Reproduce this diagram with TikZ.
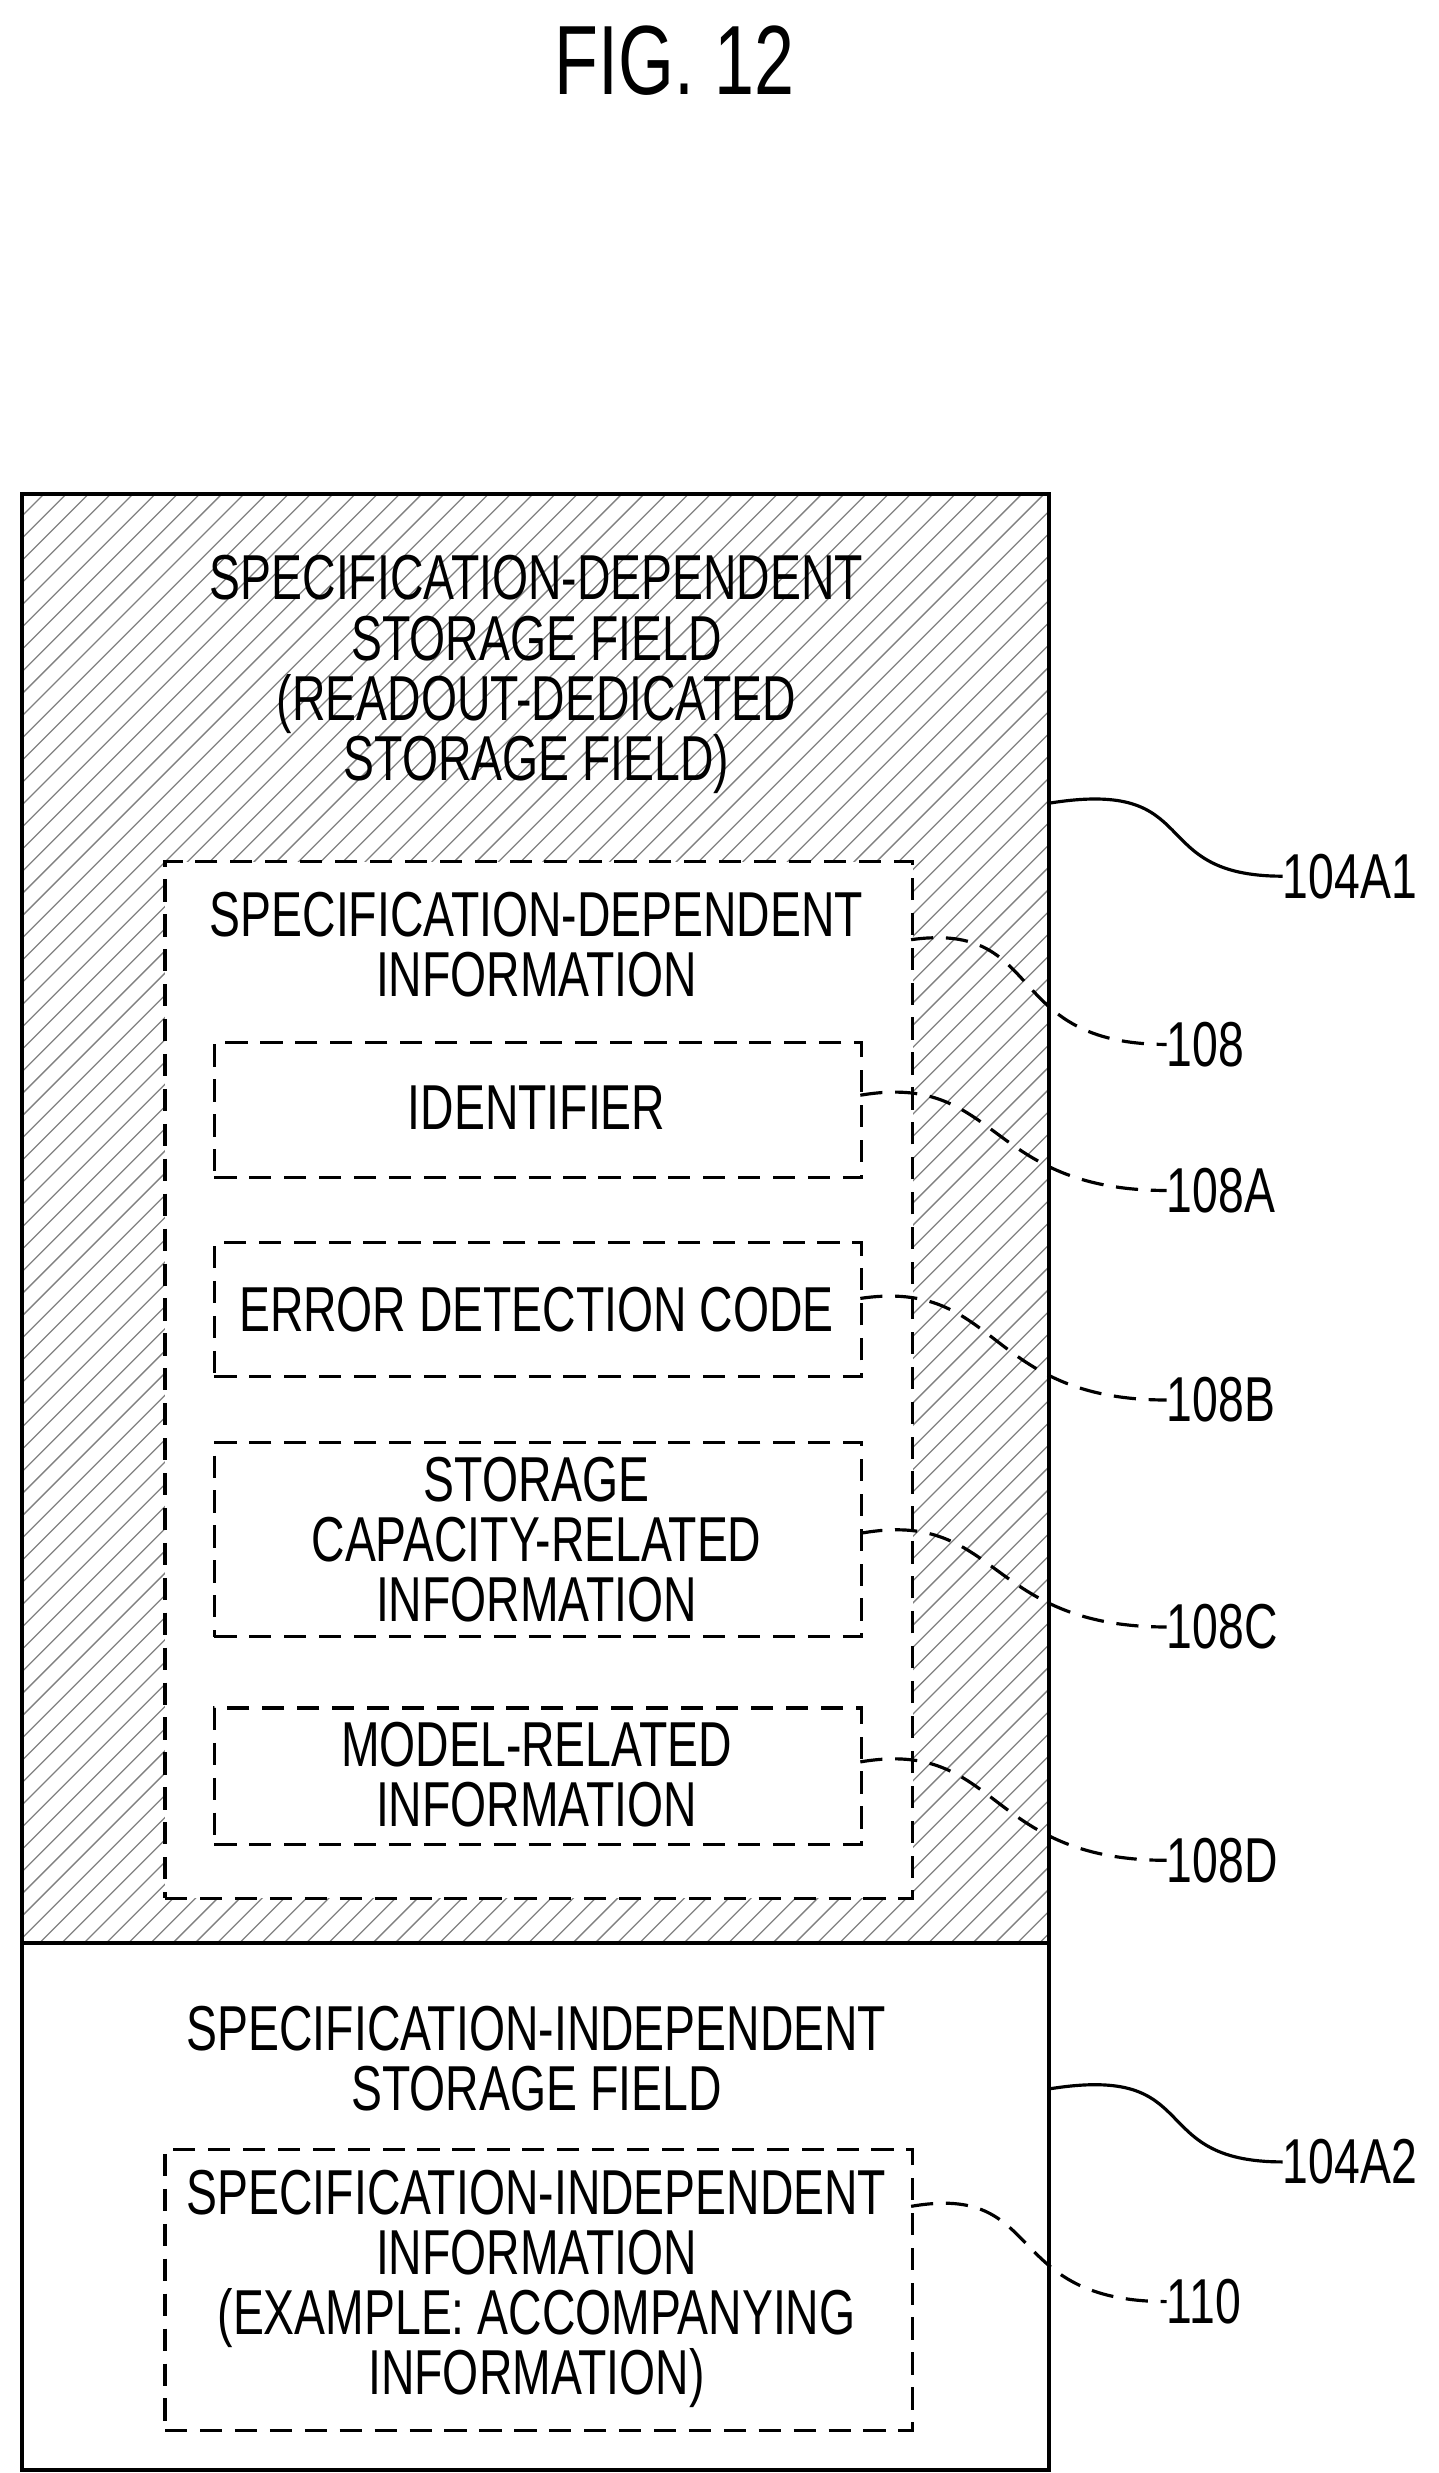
\documentclass[tikz,border=0pt]{standalone}
\usepackage{fontspec}
\setmainfont[FakeStretch=0.73]{Liberation Sans}
\begin{document}
\begin{tikzpicture}[x=1pt,y=-1pt,
 txt/.style={font=\fontsize{40}{38}\selectfont,align=center,inner sep=0},
 lab/.style={font=\fontsize{40}{38}\selectfont,anchor=west,inner sep=0},
 dbox/.style={draw,line width=2pt,dash pattern=on 14pt off 8pt,fill=white},
 lead/.style={line width=2pt},
 dlead/.style={line width=2pt,dash pattern=on 14pt off 8pt}]
\useasboundingbox (0,0) rectangle (906,1558);
\node[txt,font=\fontsize{62}{60}\selectfont] (title) at (425,38) {FIG. 12};
\begin{scope}
\clip (14,311) rectangle (661,1224);
\foreach \i in {0,14,...,1600} \draw[gray,line width=0.8pt] (14+\i-913,1224) -- (14+\i,311);
\end{scope}
\draw[line width=2.4pt] (14,311) rectangle (661,1556);
\draw[line width=2.4pt] (14,1224) -- (661,1224);
\node[txt] (t1) at (338,425) {SPECIFICATION-DEPENDENT\\STORAGE FIELD\\(READOUT-DEDICATED\\STORAGE FIELD)};
\node[dbox,minimum width=471,minimum height=653,anchor=north west] (b108) at (103,542) {};
\node[txt] at (338,595) {SPECIFICATION-DEPENDENT\\INFORMATION};
\node[dbox,minimum width=408,minimum height=85,anchor=north west] (bA) at (134,656) {};
\node[txt] at (338,698) {IDENTIFIER};
\node[dbox,minimum width=408,minimum height=84,anchor=north west] (bB) at (134,782) {};
\node[txt] at (338,825) {ERROR DETECTION CODE};
\node[dbox,minimum width=408,minimum height=122,anchor=north west] (bC) at (134,908) {};
\node[txt] at (338,970) {STORAGE\\CAPACITY-RELATED\\INFORMATION};
\node[dbox,minimum width=408,minimum height=86,anchor=north west] (bD) at (134,1075) {};
\node[txt] at (338,1118) {MODEL-RELATED\\INFORMATION};
\node[txt] (t2) at (338,1297) {SPECIFICATION-INDEPENDENT\\STORAGE FIELD};
\node[dbox,minimum width=471,minimum height=177,anchor=north west] (b110) at (103,1353) {};
\node[txt] at (338,1442) {SPECIFICATION-INDEPENDENT\\INFORMATION\\(EXAMPLE: ACCOMPANYING\\INFORMATION)};
% labels
\node[lab] (l1) at (808,552) {104A1};
\node[lab] (l2) at (808,1362) {104A2};
\node[lab] (l108) at (735,658) {108};
\node[lab] (lA) at (735,750) {108A};
\node[lab] (lB) at (735,882) {108B};
\node[lab] (lC) at (735,1025) {108C};
\node[lab] (lD) at (735,1172) {108D};
\node[lab] (l110) at (735,1450) {110};
\draw[lead] (661,506) .. controls (760,490) and (720,552) .. (l1.west);
\draw[lead] (661,1316) .. controls (760,1300) and (720,1362) .. (l2.west);
\draw[dlead] (574,592) .. controls (660,580) and (630,658) .. (l108.west);
\draw[dlead] (542,690) .. controls (630,675) and (620,750) .. (lA.west);
\draw[dlead] (542,818) .. controls (630,805) and (620,882) .. (lB.west);
\draw[dlead] (542,966) .. controls (630,950) and (620,1025) .. (lC.west);
\draw[dlead] (542,1110) .. controls (630,1095) and (620,1172) .. (lD.west);
\draw[dlead] (574,1390) .. controls (660,1375) and (630,1450) .. (l110.west);
\end{tikzpicture}
\end{document}
